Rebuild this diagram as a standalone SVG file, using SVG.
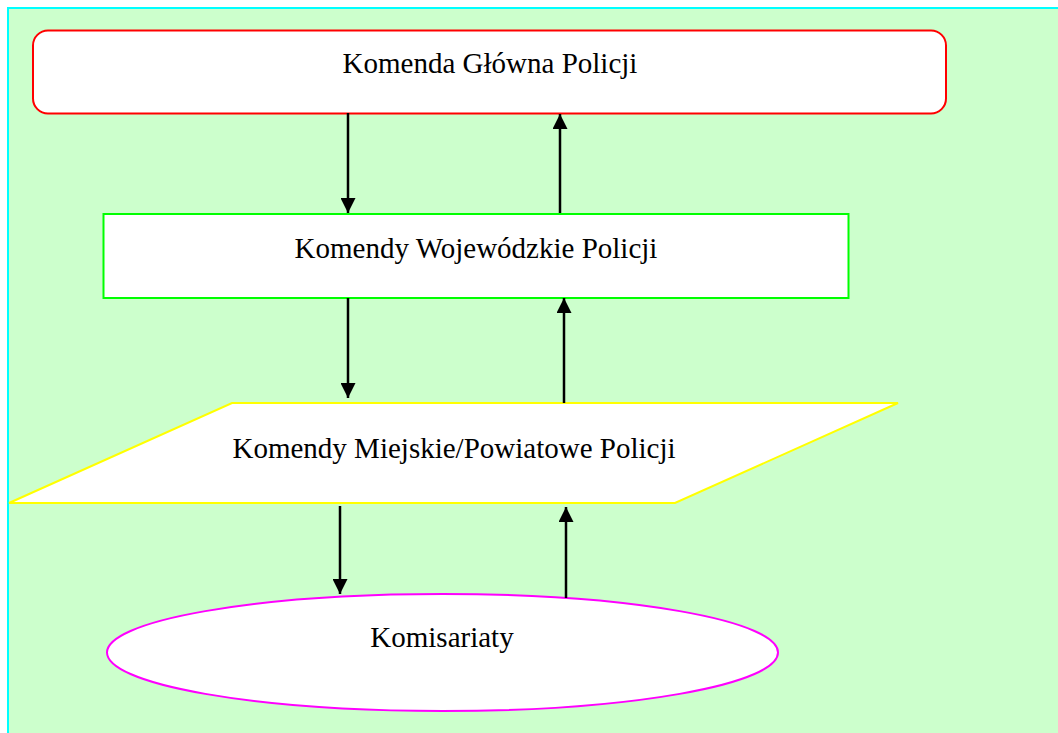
<svg xmlns="http://www.w3.org/2000/svg" width="1058" height="733" viewBox="0 0 1058 733">
<style>
text{font-family:"Liberation Serif","Times New Roman",serif;font-size:29px;fill:#000;text-anchor:middle}
.conn line{stroke:#000;stroke-width:2.5;marker-end:url(#ah)}
</style>
<defs>
<marker id="ah" viewBox="0 0 10 10" refX="10" refY="5" markerWidth="6" markerHeight="6" markerUnits="strokeWidth" orient="auto">
<path d="M0,0 L10,5 L0,10 z" fill="#000"/>
</marker>
</defs>
<rect x="0" y="0" width="1058" height="733" fill="#fff"/>
<rect x="8" y="8" width="1052" height="730" fill="#CCFFCC" stroke="#00FFFF" stroke-width="2"/>
<g id="kgp">
<rect x="33" y="30.5" width="913" height="83" rx="15" ry="15" fill="#fff" stroke="#FF0000" stroke-width="2"/>
<text x="490" y="73">Komenda Główna Policji</text>
</g>
<g id="kwp">
<rect x="103.5" y="214" width="745" height="84" fill="#fff" stroke="#00FF00" stroke-width="2"/>
<text x="476" y="258">Komendy Wojewódzkie Policji</text>
</g>
<g id="kmp">
<polygon points="232,403 898,403 675,503 9,503" fill="#fff" stroke="#FFFF00" stroke-width="2"/>
<text x="454" y="458">Komendy Miejskie/Powiatowe Policji</text>
</g>
<g id="kom">
<ellipse cx="442.5" cy="652.5" rx="335.5" ry="58.5" fill="#fff" stroke="#FF00FF" stroke-width="2"/>
<text x="442" y="647">Komisariaty</text>
</g>
<g class="conn" id="connectors">
<line x1="348" y1="113" x2="348" y2="213"/>
<line x1="560" y1="213" x2="560" y2="114"/>
<line x1="348" y1="298" x2="348" y2="398"/>
<line x1="564" y1="403" x2="564" y2="298"/>
<line x1="340" y1="506" x2="340" y2="594"/>
<line x1="566" y1="598" x2="566" y2="507"/>
</g>
</svg>
